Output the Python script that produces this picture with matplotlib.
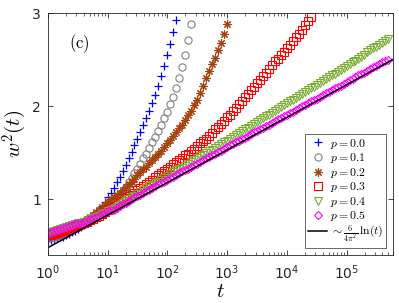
import numpy as np
import matplotlib
matplotlib.use("Agg")
import matplotlib.pyplot as plt

plt.rcParams['mathtext.fontset'] = 'cm'
plt.rcParams['font.family'] = ['DejaVu Sans']

# log10(t) grid step starting at t = 1
log_step = 0.05

p_labels = ["$p=0.0$", "$p=0.1$", "$p=0.2$", "$p=0.3$", "$p=0.4$", "$p=0.5$"]

w2_p00 = [0.55, 0.56, 0.57, 0.58, 0.59, 0.60, 0.62, 0.63, 0.65, 0.66,
          0.68, 0.70, 0.72, 0.75, 0.78, 0.81, 0.85, 0.89, 0.93, 0.97,
          1.02, 1.07, 1.12, 1.18, 1.24, 1.30, 1.37, 1.44, 1.51, 1.58,
          1.65, 1.72, 1.80, 1.87, 1.95, 2.03, 2.12, 2.22, 2.32, 2.43,
          2.55, 2.67, 2.80, 2.93]
w2_p01 = [0.58, 0.59, 0.60, 0.61, 0.62, 0.63, 0.64, 0.66, 0.67, 0.69,
          0.70, 0.72, 0.73, 0.75, 0.77, 0.79, 0.81, 0.84, 0.86, 0.89,
          0.92, 0.95, 0.98, 1.02, 1.05, 1.09, 1.13, 1.18, 1.23, 1.28,
          1.33, 1.38, 1.44, 1.49, 1.55, 1.61, 1.67, 1.73, 1.80, 1.87,
          1.94, 2.02, 2.10, 2.20, 2.30, 2.42, 2.55, 2.71, 2.88]
w2_p02 = [0.60, 0.61, 0.62, 0.63, 0.64, 0.66, 0.67, 0.69, 0.70, 0.72,
          0.73, 0.75, 0.77, 0.79, 0.81, 0.83, 0.86, 0.89, 0.92, 0.94,
          0.97, 1.00, 1.02, 1.05, 1.07, 1.10, 1.13, 1.16, 1.19, 1.22,
          1.26, 1.29, 1.32, 1.35, 1.39, 1.42, 1.45, 1.49, 1.52, 1.56,
          1.60, 1.64, 1.68, 1.72, 1.76, 1.80, 1.85, 1.90, 1.95, 2.01,
          2.07, 2.14, 2.22, 2.30, 2.38, 2.45, 2.52, 2.60, 2.68, 2.78,
          2.88]
w2_p03 = [0.62, 0.62, 0.63, 0.64, 0.65, 0.66, 0.67, 0.68, 0.70, 0.71,
          0.72, 0.73, 0.75, 0.76, 0.78, 0.79, 0.81, 0.82, 0.84, 0.86,
          0.88, 0.90, 0.92, 0.94, 0.96, 0.98, 1.01, 1.03, 1.05, 1.07,
          1.10, 1.12, 1.14, 1.16, 1.19, 1.21, 1.24, 1.26, 1.28, 1.30,
          1.33, 1.35, 1.38, 1.40, 1.42, 1.44, 1.47, 1.49, 1.52, 1.54,
          1.57, 1.60, 1.63, 1.65, 1.68, 1.71, 1.75, 1.78, 1.81, 1.84,
          1.88, 1.91, 1.95, 1.98, 2.02, 2.06, 2.10, 2.13, 2.17, 2.21,
          2.25, 2.28, 2.32, 2.36, 2.40, 2.44, 2.48, 2.51, 2.55, 2.58,
          2.62, 2.66, 2.70, 2.74, 2.78, 2.82, 2.87, 2.91, 2.96]
w2_p04 = [0.64, 0.65, 0.66, 0.67, 0.68, 0.69, 0.70, 0.71, 0.72, 0.73,
          0.74, 0.75, 0.76, 0.77, 0.79, 0.80, 0.81, 0.82, 0.84, 0.85,
          0.87, 0.88, 0.90, 0.92, 0.94, 0.96, 0.98, 1.00, 1.02, 1.04,
          1.06, 1.08, 1.10, 1.12, 1.14, 1.15, 1.17, 1.19, 1.21, 1.23,
          1.25, 1.27, 1.29, 1.31, 1.33, 1.34, 1.36, 1.38, 1.40, 1.42,
          1.44, 1.46, 1.48, 1.50, 1.52, 1.53, 1.55, 1.57, 1.59, 1.61,
          1.63, 1.65, 1.67, 1.69, 1.71, 1.73, 1.75, 1.77, 1.79, 1.81,
          1.83, 1.85, 1.87, 1.89, 1.91, 1.93, 1.95, 1.97, 1.99, 2.01,
          2.03, 2.05, 2.07, 2.09, 2.11, 2.13, 2.15, 2.17, 2.19, 2.21,
          2.23, 2.25, 2.27, 2.29, 2.31, 2.33, 2.35, 2.37, 2.39, 2.41,
          2.43, 2.45, 2.47, 2.49, 2.51, 2.53, 2.55, 2.58, 2.60, 2.62,
          2.64, 2.66, 2.68, 2.70, 2.72]
w2_p05 = [0.64, 0.65, 0.66, 0.67, 0.68, 0.69, 0.70, 0.71, 0.72, 0.73,
          0.74, 0.75, 0.76, 0.77, 0.79, 0.80, 0.81, 0.82, 0.84, 0.85,
          0.87, 0.88, 0.89, 0.91, 0.93, 0.95, 0.96, 0.98, 1.00, 1.02,
          1.03, 1.05, 1.07, 1.09, 1.10, 1.12, 1.14, 1.16, 1.17, 1.19,
          1.21, 1.23, 1.24, 1.26, 1.28, 1.30, 1.31, 1.33, 1.35, 1.37,
          1.38, 1.40, 1.42, 1.44, 1.45, 1.47, 1.49, 1.51, 1.52, 1.54,
          1.56, 1.58, 1.59, 1.61, 1.63, 1.65, 1.66, 1.68, 1.70, 1.72,
          1.73, 1.75, 1.77, 1.79, 1.80, 1.82, 1.84, 1.86, 1.87, 1.89,
          1.91, 1.93, 1.94, 1.96, 1.98, 2.00, 2.01, 2.03, 2.05, 2.07,
          2.08, 2.10, 2.12, 2.14, 2.15, 2.17, 2.19, 2.21, 2.22, 2.24,
          2.26, 2.28, 2.29, 2.31, 2.33, 2.35, 2.36, 2.38, 2.40, 2.42,
          2.43, 2.45, 2.47, 2.49, 2.50]

# reference line ~ 6/(4 pi^2) ln(t) (straight in semilog-x)
line_t = [1.0, 6e5]
line_w2 = [0.48, 0.48 + 6 / (4 * np.pi ** 2) * np.log(6e5)]

series = [w2_p00, w2_p01, w2_p02, w2_p03, w2_p04, w2_p05]
brown = (0.65, 0.25, 0.05)
styles = [
    dict(marker='+', color=(0.0, 0.0, 1.0), mfc='none', ms=6, mew=0.9),
    dict(marker='o', color=(0.5, 0.5, 0.5), mfc='none', ms=5.2, mew=0.8),
    dict(marker=(8, 2, 0), color=brown, mfc=brown, ms=6, mew=0.8),
    dict(marker='s', color=(1.0, 0.0, 0.0), mfc='none', ms=5.2, mew=0.8),
    dict(marker='v', color=(0.47, 0.67, 0.19), mfc='none', ms=6, mew=0.8),
    dict(marker='D', color=(1.0, 0.0, 1.0), mfc='none', ms=4.5, mew=0.8),
]

fig = plt.figure(figsize=(3.99, 3.03), dpi=100)
ax = fig.add_axes([0.120, 0.158, 0.865, 0.799])

for vals, lab, st in zip(series, p_labels, styles):
    t = 10 ** (np.arange(len(vals)) * log_step)
    ax.plot(t, vals, linestyle='none', label=lab, **st)

ax.plot(line_t, line_w2, color='black', lw=1.1,
        label=r"$\sim\frac{6}{4\pi^2}\,\ln(t)$")

ax.set_xscale('log')
ax.set_xlim(1, 6e5)
ax.set_ylim(0.4, 3)
ax.set_yticks([1, 2, 3])
ax.set_xticks([1e0, 1e1, 1e2, 1e3, 1e4, 1e5])
ax.tick_params(which='both', direction='in', top=True, right=True,
               labelsize=10, colors='0.15')
ax.tick_params(axis='x', pad=6)
ax.tick_params(axis='y', pad=5)
ax.tick_params(which='major', length=3.5, width=0.6)
ax.tick_params(which='minor', length=2, width=0.5)
for s in ax.spines.values():
    s.set_linewidth(0.6)
    s.set_color('0.15')

ax.set_xlabel("$t$", fontsize=15, labelpad=-1)
ax.set_ylabel("$w^2(t)$", fontsize=15, labelpad=2)
ax.text(0.06, 0.855, r"$\mathrm{(c)}$", transform=ax.transAxes, fontsize=12)

leg = ax.legend(loc='lower right', fontsize=8.5, frameon=True, fancybox=False,
                edgecolor='0.3', framealpha=1, handlelength=1.6,
                handletextpad=0.2, borderpad=0.25, labelspacing=0.05,
                borderaxespad=0.6)
leg.get_frame().set_linewidth(0.6)

fig.savefig("out.png", dpi=100)
